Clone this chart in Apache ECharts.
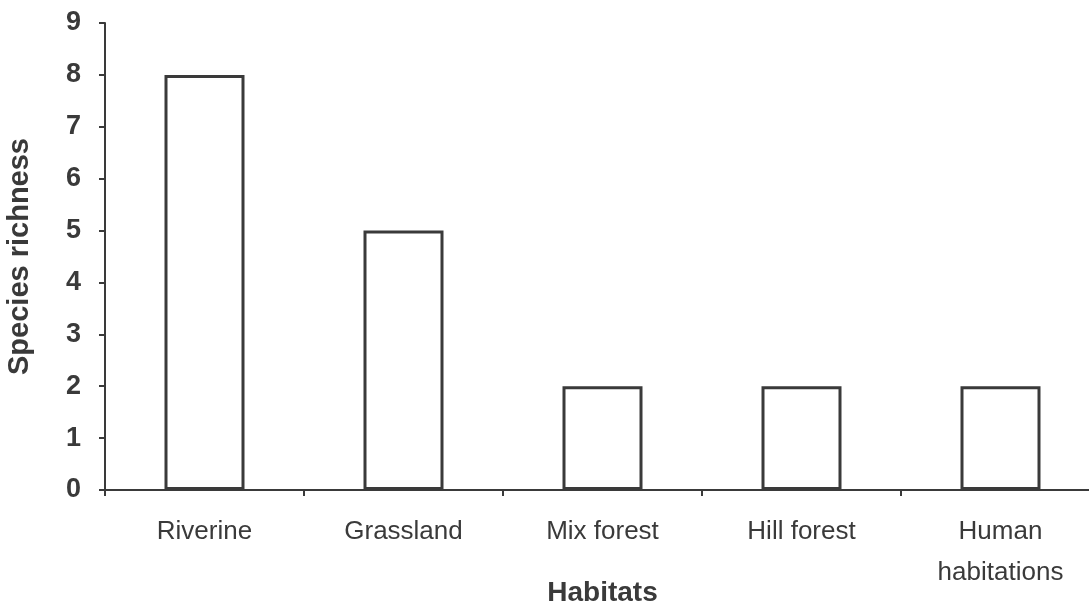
<!DOCTYPE html>
<html>
<head>
<meta charset="utf-8">
<script src="https://cdn.jsdelivr.net/npm/echarts@6/dist/echarts.min.js"></script>
<style>
html,body{margin:0;padding:0;background:#fff;}
#chart{width:1089px;height:601px;}
</style>
</head>
<body>
<div id="chart"></div>
<script>
const categories = ['Riverine', 'Grassland', 'Mix forest', 'Hill forest', 'Human\nhabitations'];
const speciesRichness = [8, 5, 2, 2, 2];
const yTicks = [0, 1, 2, 3, 4, 5, 6, 7, 8, 9];

const chart = echarts.init(document.getElementById('chart'));
const ink = '#3a3a3a';
chart.setOption({
  animation: false,
  backgroundColor: '#ffffff',
  grid: { left: 105, top: 23, width: 995, height: 467, containLabel: false, outerBoundsMode: 'none' },
  xAxis: {
    type: 'category',
    data: categories,
    name: 'Habitats',
    nameLocation: 'middle',
    nameGap: 89,
    nameMoveOverlap: false,
    nameTextStyle: { fontFamily: 'Liberation Sans', fontWeight: 'bold', fontSize: 28, color: ink },
    axisLine: { lineStyle: { color: ink, width: 2 } },
    axisTick: { show: true, length: 6, lineStyle: { color: ink, width: 2 } },
    axisLabel: { margin: 21, fontFamily: 'Liberation Sans', fontSize: 26, color: ink, lineHeight: 41, interval: 0 }
  },
  yAxis: {
    type: 'value',
    min: yTicks[0],
    max: yTicks[yTicks.length - 1],
    interval: 1,
    name: 'Species richness',
    nameLocation: 'middle',
    nameGap: 71,
    nameMoveOverlap: false,
    nameRotate: 90,
    nameTextStyle: { fontFamily: 'Liberation Sans', fontWeight: 'bold', fontSize: 29, color: ink },
    axisLine: { show: true, lineStyle: { color: ink, width: 2 } },
    axisTick: { show: true, length: 6, lineStyle: { color: ink, width: 2 } },
    splitLine: { show: false },
    axisLabel: { margin: 24, fontFamily: 'Liberation Sans', fontWeight: 'bold', fontSize: 27, color: ink }
  },
  series: [{
    type: 'bar',
    data: speciesRichness,
    barWidth: 80,
    itemStyle: { color: '#ffffff', borderColor: ink, borderWidth: 3 }
  }]
});
</script>
</body>
</html>
